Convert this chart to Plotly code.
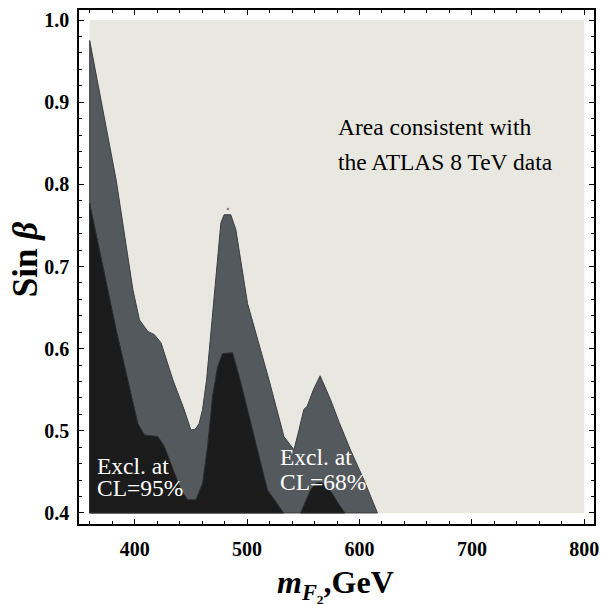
import plotly.graph_objects as go

# ---------------- data ----------------
M_RANGE = [360, 800]          # GeV, extent of the computed region
S_RANGE = [0.4, 1.0]          # sin(beta) extent

# upper boundary of the CL=68% excluded region (grey)
cl68_m = [360, 383.6, 398.4, 404.3, 411.7, 417.6, 423.5, 434.0, 444.0, 450.0,
          454.0, 457.4, 460.4, 464.0, 468.5, 472.3, 476.7, 479.6, 485.5, 490.0,
          495.0, 500.4, 507.0, 519.5, 532.8, 541.7, 546.0, 550.5, 553.5, 559.0,
          565.0, 574.2, 582.0, 591.9, 604.0, 616.0]
cl68_s = [0.975, 0.805, 0.672, 0.635, 0.621, 0.617, 0.607, 0.562, 0.526, 0.501,
          0.502, 0.509, 0.526, 0.562, 0.630, 0.696, 0.753, 0.763, 0.763, 0.745,
          0.700, 0.655, 0.623, 0.562, 0.493, 0.477, 0.500, 0.526, 0.530, 0.550,
          0.567, 0.538, 0.510, 0.477, 0.440, 0.400]

# upper boundary of the CL=95% excluded region (dark), first part
cl95a_m = [360, 383.6, 394.0, 402.8, 408.7, 415.0, 420.6, 426.4, 435.3, 441.2,
           447.2, 454.5, 460.4, 464.9, 469.3, 473.8, 478.2, 487.1, 493.8, 500.4,
           509.0, 518.1, 532.5]
cl95a_s = [0.777, 0.623, 0.562, 0.509, 0.495, 0.494, 0.493, 0.481, 0.449, 0.428,
           0.416, 0.416, 0.436, 0.481, 0.542, 0.578, 0.594, 0.595, 0.562, 0.526,
           0.480, 0.428, 0.400]

# CL=95% excluded region, second small island
cl95b_m = [547.6, 552.0, 556.5, 560.9, 564.4, 568.0, 575.7, 581.0, 587.0]
cl95b_s = [0.400, 0.415, 0.428, 0.436, 0.437, 0.436, 0.424, 0.412, 0.400]

# isolated contour speck above the 480 GeV peak
speck_m = [483.0]
speck_s = [0.770]

x_ticks = [400, 500, 600, 700, 800]
y_ticks = [0.4, 0.5, 0.6, 0.7, 0.8, 0.9, 1.0]

# ---------------- styling ----------------
LIGHT = "#e8e8e0"
GREY = "#54595e"
DARK = "#1b1b1b"
EDGE = "#3a3e42"
SERIF = "Liberation Serif"

fig = go.Figure()

# allowed area (whole computed rectangle)
fig.add_trace(go.Scatter(
    x=[M_RANGE[0], M_RANGE[1], M_RANGE[1], M_RANGE[0]],
    y=[S_RANGE[0], S_RANGE[0], S_RANGE[1], S_RANGE[1]],
    fill="toself", fillcolor=LIGHT, mode="lines", line=dict(width=0),
    hoverinfo="skip", showlegend=False))

# 68% region: close polygon along the bottom edge
fig.add_trace(go.Scatter(
    x=[cl68_m[0]] + cl68_m + [cl68_m[0]],
    y=[S_RANGE[0]] + cl68_s + [S_RANGE[0]],
    fill="toself", fillcolor=GREY, mode="lines",
    line=dict(color=EDGE, width=1), hoverinfo="skip", showlegend=False))

# 95% regions
fig.add_trace(go.Scatter(
    x=[cl95a_m[0]] + cl95a_m + [cl95a_m[0]],
    y=[S_RANGE[0]] + cl95a_s + [S_RANGE[0]],
    fill="toself", fillcolor=DARK, mode="lines",
    line=dict(color="#2a2c2e", width=1), hoverinfo="skip", showlegend=False))
fig.add_trace(go.Scatter(
    x=cl95b_m + [cl95b_m[0]],
    y=cl95b_s + [cl95b_s[0]],
    fill="toself", fillcolor=DARK, mode="lines",
    line=dict(color="#2a2c2e", width=1), hoverinfo="skip", showlegend=False))

fig.add_trace(go.Scatter(
    x=speck_m, y=speck_s, mode="markers",
    marker=dict(size=2.5, color="#80848a"), hoverinfo="skip", showlegend=False))

axis_common = dict(
    showline=True, linecolor="black", linewidth=1.5, mirror="ticks",
    ticks="inside", ticklen=5, tickwidth=1.2, tickcolor="black",
    showgrid=False, zeroline=False, automargin=False,
    tickfont=dict(family=SERIF, size=20, color="black", weight="bold"),
)

fig.update_xaxes(range=[350.5, 808.6], tickvals=x_ticks,
                 minor=dict(dtick=20, tick0=0, ticks="inside", ticklen=3,
                            tickwidth=1, tickcolor="black"),
                 ticklabelstandoff=6,
                 **axis_common)
fig.update_yaxes(range=[0.3866, 1.0122], tickvals=y_ticks, tickformat=".1f",
                 minor=dict(dtick=0.02, tick0=0, ticks="inside", ticklen=3,
                            tickwidth=1, tickcolor="black"),
                 ticklabelstandoff=4,
                 **axis_common)

def note(text, x, y, color, size=23.5):
    fig.add_annotation(text=text, x=x, y=y, xref="x", yref="y",
                       xanchor="left", yanchor="middle", showarrow=False,
                       font=dict(family=SERIF, size=size, color=color))

note("Area consistent with", 579.3, 0.870, "black")
note("the ATLAS 8 TeV data", 578.8, 0.8276, "black")
note("Excl. at", 365.0, 0.4575, "white")
note("CL=95%", 365.0, 0.4300, "white")
note("Excl. at", 527.2, 0.4680, "white")
note("CL=68%", 527.2, 0.4372, "white")

# axis titles
fig.add_annotation(
    text="<i>m</i><sub><i>F</i>\u2082</sub>,GeV",
    x=0.499, y=-0.118, xref="paper", yref="paper",
    xanchor="center", yanchor="middle", showarrow=False,
    font=dict(family=SERIF, size=32, color="black", weight="bold"))
fig.add_annotation(
    text="Sin <i>β</i>",
    x=-0.105, y=0.515, xref="paper", yref="paper", textangle=-90,
    xanchor="center", yanchor="middle", showarrow=False,
    font=dict(family=SERIF, size=35, color="black", weight="bold"))

fig.update_layout(
    width=601, height=604,
    margin=dict(l=79, r=7, t=10, b=80),
    paper_bgcolor="white", plot_bgcolor="white",
    showlegend=False,
)

fig.write_html("out.html",
               config={"displayModeBar": False},
               post_script="document.body.style.margin='0px';"
                           "document.body.style.overflow='hidden';")
